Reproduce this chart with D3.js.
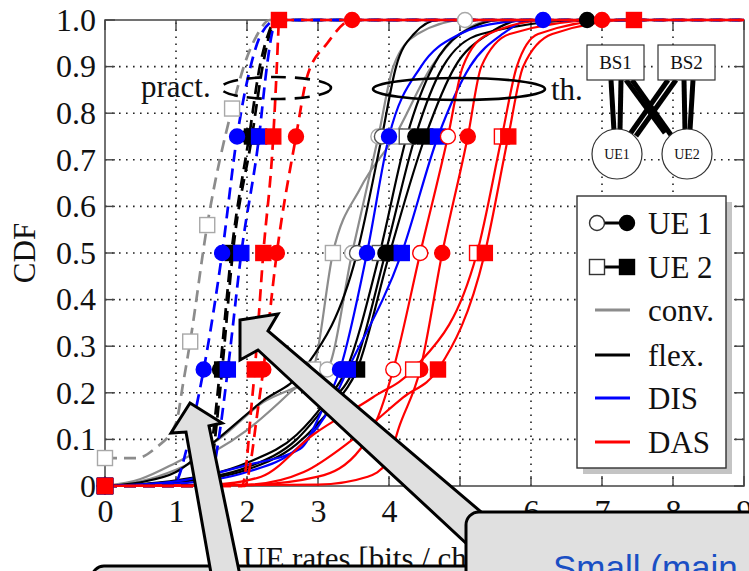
<!DOCTYPE html>
<html>
<head>
<meta charset="utf-8">
<script src="https://cdn.jsdelivr.net/npm/d3@7"></script>
<style>
  body { margin: 0; background: #fff; }
  svg { display: block; }
</style>
</head>
<body>
<svg id="chart" width="749" height="571"></svg>
<script>
// ---------- axis ticks ----------
const xTickValues = [0, 1, 2, 3, 4, 5, 6, 7, 8, 9];
const yTickValues = [0, 0.1, 0.2, 0.3, 0.4, 0.5, 0.6, 0.7, 0.8, 0.9, 1.0];
const yTickLabels = ["0", "0.1", "0.2", "0.3", "0.4", "0.5", "0.6", "0.7", "0.8", "0.9", "1.0"];

// ---------- practical schemes (dashed), [rate, CDF] ----------
const practConvUE2 = [[0,0.06],[0.45,0.06],[0.7,0.08],[1.0,0.135],[1.1,0.22],[1.2,0.31],[1.44,0.56],[1.79,0.81],[2.0,0.92],[2.15,0.97],[2.32,1],[9,1]];
const practFlexUE1 = [[0,0],[1.38,0],[1.45,0.03],[1.53,0.12],[1.62,0.25],[1.78,0.5],[2.03,0.75],[2.18,0.9],[2.3,0.97],[2.4,1],[9,1]];
const practFlexUE2 = [[0,0],[1.42,0],[1.5,0.04],[1.57,0.13],[1.65,0.25],[1.80,0.5],[2.07,0.75],[2.22,0.9],[2.32,0.97],[2.42,1],[9,1]];
const practDisUE1  = [[0,0],[0.95,0],[1.01,0.01],[1.15,0.08],[1.3,0.18],[1.39,0.25],[1.65,0.5],[1.86,0.75],[2.05,0.9],[2.2,0.97],[2.42,1],[9,1]];
const practDisUE2  = [[0,0],[1.45,0],[1.52,0.03],[1.62,0.12],[1.73,0.25],[1.92,0.5],[2.17,0.75],[2.28,0.9],[2.35,0.97],[2.42,1],[9,1]];
const practDasUE1  = [[0,0],[1.97,0],[2.05,0.05],[2.14,0.15],[2.23,0.25],[2.42,0.5],[2.69,0.75],[2.85,0.88],[3.13,0.95],[3.48,1],[9,1]];
const practDasUE2  = [[0,0],[1.93,0],[2.0,0.06],[2.05,0.15],[2.11,0.25],[2.23,0.5],[2.37,0.75],[2.42,0.9],[2.44,0.97],[2.45,1],[9,1]];

// ---------- theoretical schemes (solid), [rate, CDF] ----------
const thConvUE2a = [[0,0],[0.5,0.01],[1,0.035],[2,0.12],[2.6,0.2],[2.93,0.25],[3.21,0.5],[3.6,0.64],[4.08,0.75],[4.6,0.9],[5.0,0.97],[5.5,1],[9,1]];
const thConvUE1  = [[0,0],[0.5,0.015],[1,0.05],[1.6,0.1],[2.23,0.18],[2.8,0.22],[3.13,0.25],[3.48,0.5],[3.85,0.75],[4.06,0.9],[4.4,0.97],[5.07,1],[9,1]];
const thFlexUE1a = [[0,0],[0.5,0.008],[1,0.03],[1.58,0.1],[2.2,0.18],[2.8,0.25],[3.55,0.5],[3.9,0.75],[4.1,0.9],[4.35,0.97],[4.7,1],[9,1]];
const thFlexUE2a = [[0,0],[1,0.012],[2,0.05],[2.7,0.11],[3.1,0.18],[3.4,0.25],[3.87,0.5],[4.25,0.75],[4.62,0.9],[5.0,0.97],[5.6,1],[9,1]];
const thFlexUE1  = [[0,0],[1,0.01],[2,0.04],[2.7,0.1],[3.1,0.17],[3.5,0.25],[3.95,0.5],[4.37,0.75],[4.76,0.9],[5.3,0.97],[6.79,1],[9,1]];
const thFlexUE2  = [[0,0],[1,0.008],[2,0.035],[2.7,0.09],[3.2,0.17],[3.55,0.25],[4.01,0.5],[4.51,0.75],[4.93,0.9],[5.4,0.97],[5.9,1],[9,1]];
const thDisUE1   = [[0,0],[1,0.01],[2,0.045],[2.75,0.08],[3.05,0.16],[3.31,0.25],[3.69,0.5],[4.0,0.75],[4.45,0.9],[5.0,0.97],[5.6,0.995],[6.17,1],[9,1]];
const thDisUE2   = [[0,0],[1,0.005],[2,0.03],[2.7,0.08],[3.1,0.15],[3.42,0.25],[4.18,0.5],[4.69,0.75],[5.14,0.9],[5.6,0.97],[6.0,1],[9,1]];
const thDasUE1a  = [[0,0],[2,0.002],[3,0.02],[3.6,0.08],[3.85,0.15],[4.06,0.25],[4.44,0.5],[4.83,0.75],[5.04,0.9],[5.4,0.97],[6.27,1],[9,1]];
const thDasUE1   = [[0,0],[3,0.003],[3.7,0.02],[3.97,0.05],[4.15,0.13],[4.44,0.25],[4.75,0.5],[5.11,0.75],[5.3,0.9],[5.7,0.97],[7.0,1],[9,1]];
const thDasUE2a  = [[0,0],[1.5,0.003],[2.2,0.02],[2.93,0.11],[3.77,0.19],[4.34,0.25],[5.24,0.5],[5.59,0.75],[5.8,0.9],[6.1,0.97],[7.2,1],[9,1]];
const thDasUE2   = [[0,0],[2,0.003],[2.8,0.03],[3.49,0.1],[4.2,0.19],[4.69,0.25],[5.35,0.5],[5.68,0.75],[5.89,0.9],[6.3,0.97],[7.45,1],[9,1]];

// CDF levels that carry a marker
const quartLevels = [0, 0.25, 0.5, 0.75];
const quartTopLevels = [0, 0.25, 0.5, 0.75, 1];
const shiftedLevels = [0.06, 0.31, 0.56, 0.81];

// legend entries
const legendMarkerLabels = ["UE 1", "UE 2"];
const legendLineLabels = ["conv.", "flex.", "DIS", "DAS"];

// ---------- styles ----------
const GRAY = "#8c8c8c", BLACK = "#000000", BLUE = "#0000ff", RED = "#ff0000";
const schemeColor = { conv: GRAY, flex: BLACK, dis: BLUE, das: RED };

// drawing order: solid first, dashed on top; red last within each group
const series = [
  { pts: thConvUE2a, s: "conv", shape: "square", open: true,  dash: false, marks: quartLevels },
  { pts: thConvUE1,  s: "conv", shape: "circle", open: true,  dash: false, marks: quartTopLevels },
  { pts: thFlexUE1a, s: "flex", shape: "circle", open: true,  dash: false, marks: quartLevels },
  { pts: thFlexUE2a, s: "flex", shape: "square", open: true,  dash: false, marks: quartLevels },
  { pts: thFlexUE1,  s: "flex", shape: "circle", open: false, dash: false, marks: quartTopLevels },
  { pts: thFlexUE2,  s: "flex", shape: "square", open: false, dash: false, marks: quartLevels },
  { pts: thDisUE1,   s: "dis",  shape: "circle", open: false, dash: false, marks: quartTopLevels },
  { pts: thDisUE2,   s: "dis",  shape: "square", open: false, dash: false, marks: quartLevels },
  { pts: thDasUE1a,  s: "das",  shape: "circle", open: true,  dash: false, marks: quartLevels },
  { pts: thDasUE1,   s: "das",  shape: "circle", open: false, dash: false, marks: quartTopLevels },
  { pts: thDasUE2a,  s: "das",  shape: "square", open: true,  dash: false, marks: quartLevels },
  { pts: thDasUE2,   s: "das",  shape: "square", open: false, dash: false, marks: quartTopLevels },
  { pts: practConvUE2, s: "conv", shape: "square", open: true,  dash: true, marks: shiftedLevels },
  { pts: practFlexUE1, s: "flex", shape: "circle", open: false, dash: true, marks: quartLevels },
  { pts: practFlexUE2, s: "flex", shape: "square", open: false, dash: true, marks: quartLevels },
  { pts: practDisUE1,  s: "dis",  shape: "circle", open: false, dash: true, marks: quartLevels },
  { pts: practDisUE2,  s: "dis",  shape: "square", open: false, dash: true, marks: quartLevels },
  { pts: practDasUE1,  s: "das",  shape: "circle", open: false, dash: true, marks: quartTopLevels },
  { pts: practDasUE2,  s: "das",  shape: "square", open: false, dash: true, marks: quartTopLevels }
];

const svg = d3.select("#chart");
const FONT = "'Liberation Serif', 'Times New Roman', serif";

const x = d3.scaleLinear().domain([0, 9]).range([105, 744]);
const y = d3.scaleLinear().domain([0, 1]).range([486, 20]);

// ---------- grid ----------
const grid = svg.append("g").attr("stroke", "#222").attr("stroke-width", 1.6)
  .attr("stroke-dasharray", "1.6,5.4");
grid.selectAll("line.v").data(xTickValues.filter(v => v > 0 && v < 9)).join("line")
  .attr("x1", d => x(d)).attr("x2", d => x(d)).attr("y1", y(0)).attr("y2", y(1));
grid.selectAll("line.h").data(yTickValues.filter(v => v > 0 && v < 1)).join("line")
  .attr("y1", d => y(d)).attr("y2", d => y(d)).attr("x1", x(0)).attr("x2", x(9));

// ---------- frame and axes ----------
svg.append("rect").attr("x", x(0)).attr("y", y(1))
  .attr("width", x(9) - x(0)).attr("height", y(0) - y(1))
  .attr("fill", "none").attr("stroke", "#444").attr("stroke-width", 1.5);

const xAxisB = d3.axisBottom(x).tickValues(xTickValues).tickSize(0).tickPadding(13);
const gx = svg.append("g").attr("transform", `translate(0,${y(0)})`).call(xAxisB);
gx.select(".domain").remove();
gx.selectAll("text").attr("font-family", FONT).attr("font-size", 32).attr("fill", "#111");

const yAxisL = d3.axisLeft(y).tickValues(yTickValues).tickFormat((d, i) => yTickLabels[i])
  .tickSize(0).tickPadding(9);
const gy = svg.append("g").attr("transform", `translate(${x(0)},0)`).call(yAxisL);
gy.select(".domain").remove();
gy.selectAll("text").attr("font-family", FONT).attr("font-size", 32).attr("fill", "#111");

// inward tick marks on all four sides
const tk = svg.append("g").attr("stroke", "#444").attr("stroke-width", 1.4);
tk.selectAll("line.b").data(xTickValues).join("line")
  .attr("x1", d => x(d)).attr("x2", d => x(d)).attr("y1", y(0)).attr("y2", y(0) - 10);
tk.selectAll("line.t").data(xTickValues).join("line")
  .attr("x1", d => x(d)).attr("x2", d => x(d)).attr("y1", y(1)).attr("y2", y(1) + 10);
tk.selectAll("line.l").data(yTickValues).join("line")
  .attr("x1", x(0)).attr("x2", x(0) + 10).attr("y1", d => y(d)).attr("y2", d => y(d));
tk.selectAll("line.r").data(yTickValues).join("line")
  .attr("x1", x(9)).attr("x2", x(9) - 10).attr("y1", d => y(d)).attr("y2", d => y(d));

svg.append("text").attr("transform", `translate(35,${(y(0) + y(1)) / 2}) rotate(-90)`)
  .attr("text-anchor", "middle").attr("font-family", FONT).attr("font-size", 31)
  .attr("fill", "#111").text("CDF");
svg.append("text").attr("x", 243).attr("y", 569)
  .attr("font-family", FONT).attr("font-size", 31).attr("fill", "#111")
  .text("UE rates [bits / channel use]");

// ---------- curves ----------
const line = d3.line().x(d => x(d[0])).y(d => y(d[1])).curve(d3.curveMonotoneX);
const curves = svg.append("g").attr("fill", "none");
series.forEach(sr => {
  curves.append("path").datum(sr.pts).attr("d", line)
    .attr("stroke", schemeColor[sr.s])
    .attr("stroke-width", sr.dash ? 2.7 : 2.2)
    .attr("stroke-dasharray", sr.dash ? "12,7" : null);
});

// ---------- markers ----------
function drawMarker(g, cx, cy, shape, color, open, scheme) {
  const stroke = open ? (scheme === "conv" ? "#a8a8a8" : scheme === "flex" ? "#555" : color) : color;
  const fill = open ? "#fff" : color;
  if (shape === "circle") {
    return g.append("circle").attr("cx", cx).attr("cy", cy).attr("r", 7.5)
      .attr("fill", fill).attr("stroke", stroke).attr("stroke-width", 1.4);
  }
  return g.append("rect").attr("x", cx - 7.5).attr("y", cy - 7.5).attr("width", 15).attr("height", 15)
    .attr("fill", fill).attr("stroke", stroke).attr("stroke-width", 1.4);
}
const markG = svg.append("g");
series.forEach(sr => {
  sr.marks.forEach(lv => {
    const p = sr.pts.find(d => Math.abs(d[1] - lv) < 1e-9);
    if (p) drawMarker(markG, x(p[0]), y(p[1]), sr.shape, schemeColor[sr.s], sr.open, sr.s);
  });
});

// ---------- annotations: pract. / th. ----------
svg.append("text").attr("x", 141).attr("y", 97).attr("font-family", FONT)
  .attr("font-size", 31).attr("fill", "#111").text("pract.");
svg.append("ellipse").attr("cx", 276).attr("cy", 88).attr("rx", 55).attr("ry", 11)
  .attr("fill", "none").attr("stroke", "#000").attr("stroke-width", 2.6)
  .attr("stroke-dasharray", "15,9");
svg.append("ellipse").attr("cx", 459).attr("cy", 89).attr("rx", 86).attr("ry", 11)
  .attr("fill", "none").attr("stroke", "#000").attr("stroke-width", 2.6);
svg.append("text").attr("x", 551).attr("y", 100).attr("font-family", FONT)
  .attr("font-size", 31).attr("fill", "#111").text("th.");

// ---------- BS / UE topology sketch ----------
const topo = svg.append("g");
const links = [
  [611, 80, 614, 131], [621, 80, 620, 130],
  [626, 80, 665, 133], [632, 80, 671, 135],
  [668, 80, 630, 134], [676, 80, 636, 136],
  [684, 80, 685, 131], [693, 80, 690, 130]
];
topo.selectAll("line").data(links).join("line")
  .attr("x1", d => d[0]).attr("y1", d => d[1]).attr("x2", d => d[2]).attr("y2", d => d[3])
  .attr("stroke", "#000").attr("stroke-width", 5);
[["BS1", 587], ["BS2", 658]].forEach(([t, bx]) => {
  topo.append("rect").attr("x", bx).attr("y", 45).attr("width", 57).attr("height", 35)
    .attr("fill", "#fff").attr("stroke", "#333").attr("stroke-width", 1.2);
  topo.append("text").attr("x", bx + 28.5).attr("y", 69).attr("text-anchor", "middle")
    .attr("font-family", FONT).attr("font-size", 19).attr("fill", "#111").text(t);
});
[["UE1", 617], ["UE2", 687]].forEach(([t, cx]) => {
  topo.append("circle").attr("cx", cx).attr("cy", 154).attr("r", 25)
    .attr("fill", "#fff").attr("stroke", "#333").attr("stroke-width", 1.2);
  topo.append("text").attr("x", cx).attr("y", 159).attr("text-anchor", "middle")
    .attr("font-family", FONT).attr("font-size", 14).attr("fill", "#111").text(t);
});

// ---------- legend ----------
const lg = svg.append("g");
lg.append("rect").attr("x", 583).attr("y", 202).attr("width", 149).attr("height", 272).attr("fill", "#c4c4c4");
lg.append("rect").attr("x", 577).attr("y", 196).attr("width", 149).attr("height", 272)
  .attr("fill", "#fff").attr("stroke", "#333").attr("stroke-width", 1.4);
const rowY = [223, 267, 310, 355, 398, 442];
legendMarkerLabels.forEach((lab, i) => {
  const ry = rowY[i];
  const shape = i === 0 ? "circle" : "square";
  lg.append("line").attr("x1", 600).attr("x2", 624).attr("y1", ry).attr("y2", ry)
    .attr("stroke", "#000").attr("stroke-width", 3);
  drawMarker(lg, 597, ry, shape, "#000", true, "legend").attr("stroke", "#333");
  drawMarker(lg, 627, ry, shape, "#000", false, "legend");
  lg.append("text").attr("x", 648).attr("y", ry).attr("dy", "0.35em")
    .attr("font-family", FONT).attr("font-size", 31).attr("fill", "#111").text(lab);
});
const legendLineColors = [GRAY, BLACK, BLUE, RED];
legendLineLabels.forEach((lab, i) => {
  const ry = rowY[i + 2];
  lg.append("line").attr("x1", 595).attr("x2", 630).attr("y1", ry).attr("y2", ry)
    .attr("stroke", legendLineColors[i]).attr("stroke-width", 3);
  lg.append("text").attr("x", 648).attr("y", ry).attr("dy", "0.35em")
    .attr("font-family", FONT).attr("font-size", 31).attr("fill", "#111").text(lab);
});

// ---------- callouts ----------
const call = svg.append("g").attr("fill", "#e0e0e0").attr("stroke", "#000")
  .attr("stroke-width", 3).attr("stroke-linejoin", "miter");
call.append("rect").attr("x", 92).attr("y", 566).attr("width", 400).attr("height", 60).attr("rx", 12);
call.append("polygon").attr("points",
  "190,403 222,423 209,426 243,590 214,590 186,432 171,433");
call.append("polygon").attr("points",
  "240,320 278,314 268,331 520,545 468,545 258,350 240,360");
call.append("rect").attr("x", 466).attr("y", 512).attr("width", 320).attr("height", 100).attr("rx", 13);
svg.append("text").attr("x", 553).attr("y", 580)
  .attr("font-family", "'Liberation Sans', Arial, sans-serif").attr("font-size", 35)
  .attr("fill", "#1a4fc4").text("Small (main");
</script>
</body>
</html>
